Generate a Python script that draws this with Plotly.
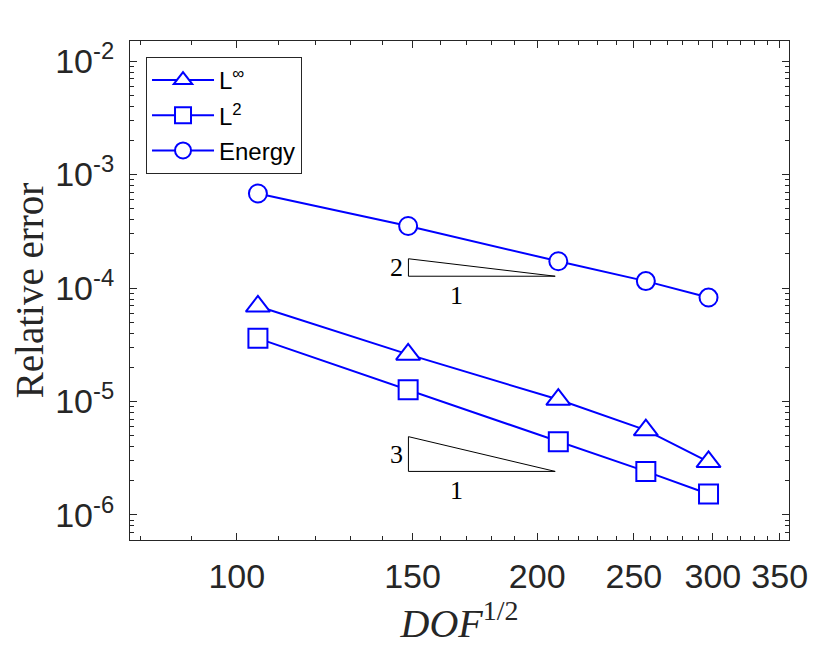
import math
import plotly.graph_objects as go

# DOF^(1/2) and relative errors
dof = [105, 148.5, 210, 257, 297]
err_linf = [6.9e-5, 2.6e-5, 1.04e-5, 5.6e-6, 2.94e-6]
err_l2 = [3.6e-5, 1.27e-5, 4.41e-6, 2.42e-6, 1.53e-6]
err_energy = [6.8e-4, 3.52e-4, 1.72e-4, 1.15e-4, 8.24e-5]

# slope triangles (left x, right x, bottom y, top y) and their labels
tri_x = [148.6, 208.5]
tri2_y = [1.27e-4, 1.81e-4]
tri3_y = [2.42e-6, 4.9e-6]
slope_labels = ["2", "3"]
run_label_x = 166

xtick_vals = [100, 150, 200, 250, 300, 350]
xtick_text = ["100", "150", "200", "250", "300", "350"]
ytick_vals = [1e-6, 1e-5, 1e-4, 1e-3, 1e-2]
ytick_text = ["10<sup>-6</sup>", "10<sup>-5</sup>", "10<sup>-4</sup>",
              "10<sup>-3</sup>", "10<sup>-2</sup>"]

blue = "#0000ff"
axcol = "#262626"

fig = go.Figure()

series = [
    ("L<sup>\u221e</sup>", err_linf, "triangle-up", 21),
    ("L<sup>2</sup>", err_l2, "square", 19),
    ("Energy", err_energy, "circle", 18),
]
for i, (name, ys, sym, sz) in enumerate(series):
    fig.add_trace(go.Scatter(
        x=dof, y=ys, name=name, mode="lines+markers", legendgroup="g%d" % i,
        line=dict(color=blue, width=2),
        marker=dict(symbol=sym, size=sz, color="white",
                    line=dict(color=blue, width=2)),
    ))

# slope triangles
lab_font = dict(family="Liberation Serif", size=26, color="black")
for ty, lab in zip([tri2_y, tri3_y], slope_labels):
    fig.add_trace(go.Scatter(
        x=[tri_x[0], tri_x[0], tri_x[1], tri_x[0]],
        y=[ty[1], ty[0], ty[0], ty[1]],
        mode="lines", line=dict(color="black", width=1),
        showlegend=False, hoverinfo="skip",
    ))
    mid = (math.log10(ty[0]) + math.log10(ty[1])) / 2
    fig.add_annotation(x=math.log10(tri_x[0]), y=mid, xref="x", yref="y",
                       text=lab, showarrow=False, xanchor="right", xshift=-3,
                       font=lab_font)
    fig.add_annotation(x=math.log10(run_label_x), y=math.log10(ty[0]),
                       xref="x", yref="y", text="1", showarrow=False,
                       yanchor="top", yshift=-3, font=lab_font)

xminor = [v for v in range(80, 360, 10) if v not in xtick_vals]
yminor = [k * 10.0 ** e for e in range(-7, -1) for k in range(2, 10)]

fig.update_xaxes(
    type="log", range=[1.893, 2.5534],
    tickmode="array", tickvals=xtick_vals, ticktext=xtick_text,
    ticks="inside", ticklen=7, tickcolor=axcol, tickwidth=1,
    minor=dict(tickmode="array", tickvals=xminor, ticks="inside",
               ticklen=4, tickcolor=axcol, showgrid=False),
    showline=True, linecolor=axcol, linewidth=1, mirror="ticks",
    showgrid=False, zeroline=False,
    tickfont=dict(family="Liberation Sans", size=34, color=axcol),
    ticklabelstandoff=6,
    title=dict(text="<i>DOF</i><sup>1/2</sup>", standoff=10,
               font=dict(family="Liberation Serif", size=40, color=axcol)),
)
fig.update_yaxes(
    type="log", range=[-6.2205, -1.8236],
    tickmode="array", tickvals=ytick_vals, ticktext=ytick_text,
    ticks="inside", ticklen=7, tickcolor=axcol, tickwidth=1,
    minor=dict(tickmode="array", tickvals=yminor, ticks="inside",
               ticklen=4, tickcolor=axcol, showgrid=False),
    showline=True, linecolor=axcol, linewidth=1, mirror="ticks",
    showgrid=False, zeroline=False,
    tickfont=dict(family="Liberation Sans", size=34, color=axcol),
    ticklabelstandoff=8,
    title=dict(text="Relative error", standoff=8,
               font=dict(family="Liberation Serif", size=39, color=axcol)),
)

fig.update_layout(
    width=823, height=649,
    margin=dict(l=122, r=42, t=33, b=117, autoexpand=False),
    plot_bgcolor="white", paper_bgcolor="white",
    showlegend=True,
    legend=dict(x=0.0243, y=0.968, xanchor="left", yanchor="top",
                bgcolor="white", bordercolor=axcol, borderwidth=1,
                itemwidth=62, tracegroupgap=1,
                font=dict(family="Liberation Sans", size=24, color="black")),
)

fig.write_html("out.html")
